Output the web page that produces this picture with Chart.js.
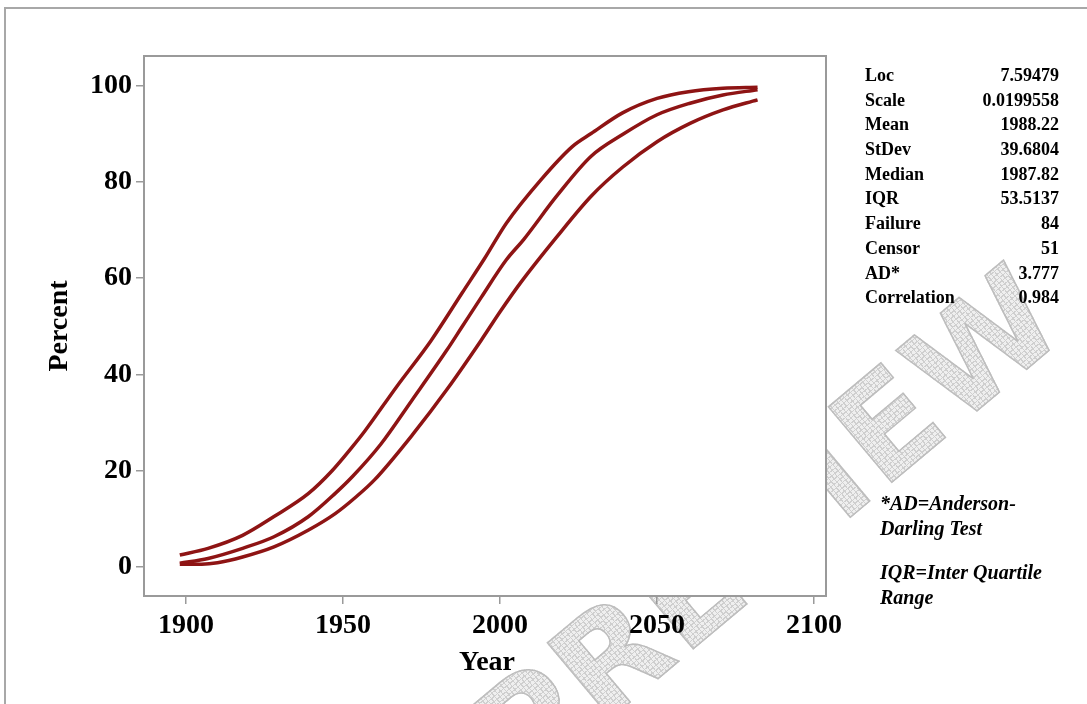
<!DOCTYPE html>
<html>
<head>
<meta charset="utf-8">
<script src="https://cdn.jsdelivr.net/npm/chart.js@4.4.1/dist/chart.umd.min.js"></script>
<style>
  html, body { margin:0; padding:0; background:#fff; width:1087px; height:704px; overflow:hidden; }
  #frame { position:absolute; left:4px; top:7px; width:1200px; height:800px; border-top:2px solid #a8a8a8; border-left:2px solid #a8a8a8; }
  #wm { position:absolute; left:449px; top:705px; font-family:"DejaVu Sans"; font-weight:bold; font-size:135px; line-height:135px;
        color:transparent;
        background: repeating-linear-gradient(0deg, #cfcfcf 0 1px, transparent 1px 4px), repeating-linear-gradient(90deg, #cfcfcf 0 1px, #efefef 1px 4px);
        -webkit-background-clip:text; background-clip:text;
        -webkit-text-stroke:1.5px #bdbdbd; transform-origin:0 0; transform:rotate(-40deg); white-space:nowrap; letter-spacing:4px; }
  #c { position:absolute; left:0; top:0; }
  .stats { position:absolute; left:865px; top:63px; width:194px; font-family:"Liberation Serif"; font-weight:bold; font-size:18px; color:#000; }
  .row { height:24.7px; line-height:24.7px; display:flex; justify-content:space-between; }
  .note { position:absolute; left:880px; font-family:"Liberation Serif"; font-weight:bold; font-style:italic; font-size:20px; line-height:24.5px; color:#000; }
</style>
</head>
<body>
<div id="frame"></div>
<div id="wm">PREVIEW</div>
<canvas id="c" width="1087" height="704"></canvas>
<div class="stats" id="stats"></div>
<div class="note" style="top:491px;">*AD=Anderson-<br>Darling Test</div>
<div class="note" style="top:560px;">IQR=Inter Quartile<br>Range</div>
<script>
// ---- data ----
const upperYears = [1898,1907,1918,1928,1939,1946.5,1953,1957,1967,1978,1988,1995,2002,2013,2023,2029,2039,2050,2060,2071,2082];
const upperPct   = [2.5,3.9,6.6,10.5,15.3,20,25,28.3,37.4,47,57,64,71.4,80.4,87.3,90,94.3,97.3,98.7,99.4,99.6];
const midYears   = [1898,1907,1918,1928,1939,1947.5,1953,1962,1972,1983,1988,1994,2002,2007.5,2018,2029,2039,2050,2060.5,2071,2082];
const midPct     = [0.8,1.8,3.9,6.3,10.5,15.3,18.8,25.5,34.7,45,50,56,63.8,68,77,85.3,89.8,93.9,96.3,98,99.1];
const lowerYears = [1898,1905,1910,1918,1928,1939,1947.5,1954,1960,1972.5,1983,1994,2000,2006.5,2018,2029,2039,2050,2060.5,2071,2082];
const lowerPct   = [0.6,0.6,0.9,2.1,4.2,7.7,11.1,14.5,18.1,27.8,36.8,47.1,53,59,68.5,77,83,88.3,92.1,94.9,97.0];
const xTickLabels = [1900,1950,2000,2050,2100];
const yTickLabels = [0,20,40,60,80,100];
const statLabels = ["Loc","Scale","Mean","StDev","Median","IQR","Failure","Censor","AD*","Correlation"];
const statValues = ["7.59479","0.0199558","1988.22","39.6804","1987.82","53.5137","84","51","3.777","0.984"];

// stats table
const st = document.getElementById('stats');
statLabels.forEach((l,i)=>{
  const r = document.createElement('div'); r.className='row';
  const a = document.createElement('span'); a.textContent = l;
  const b = document.createElement('span'); b.textContent = statValues[i];
  r.appendChild(a); r.appendChild(b); st.appendChild(r);
});

const toPts = (xs, ys) => xs.map((x,i)=>({x:x, y:ys[i]}));
const lineColor = '#8e1414';
const ds = (xs, ys) => ({ data: toPts(xs, ys), borderColor: lineColor, borderWidth: 3.5, pointRadius: 0, fill:false, cubicInterpolationMode:'monotone' });

const frameBox = {
  id:'frameBox',
  beforeDraw(chart){
    const {ctx, chartArea:a} = chart;
    ctx.save(); ctx.fillStyle='#fff'; ctx.fillRect(a.left,a.top,a.right-a.left,a.bottom-a.top); ctx.restore();
  },
  afterDraw(chart){
    const {ctx, chartArea:a} = chart;
    ctx.save();
    ctx.strokeStyle='#9a9a9a'; ctx.lineWidth=2;
    ctx.strokeRect(a.left,a.top,a.right-a.left,a.bottom-a.top);
    ctx.fillStyle='#000';
    ctx.font='bold 28px "Liberation Serif"';
    ctx.textAlign='center'; ctx.textBaseline='middle';
    ctx.fillText('Year', 487, 663);
    ctx.translate(60, 326); ctx.rotate(-Math.PI/2);
    ctx.fillText('Percent', 0, 0);
    ctx.restore();
  }
};

const tickFont = { family:'"Liberation Serif"', weight:'bold', size:28 };
new Chart(document.getElementById('c'), {
  type:'line',
  data:{ datasets:[ ds(upperYears, upperPct), ds(midYears, midPct), ds(lowerYears, lowerPct) ] },
  options:{
    responsive:false, animation:false,
    layout:{ padding:{ left:0, top:56, right:261, bottom:0 } },
    plugins:{ legend:{display:false}, tooltip:{enabled:false} },
    scales:{
      x:{ type:'linear', min:1886.6, max:2103.8,
          afterBuildTicks(s){ s.ticks = xTickLabels.map(v=>({value:v})); },
          afterFit(s){ s.height = 108; },
          ticks:{ font:tickFont, color:'#000', padding:5, maxRotation:0, callback:v=>String(v) },
          grid:{ drawOnChartArea:false, drawTicks:true, tickLength:8, color:'#9a9a9a', lineWidth:1.5 },
          border:{ display:false } },
      y:{ type:'linear', min:-6, max:106.1,
          afterBuildTicks(s){ s.ticks = yTickLabels.map(v=>({value:v})); },
          afterFit(s){ s.width = 144; },
          ticks:{ font:tickFont, color:'#000', padding:4, callback:v=>String(v) },
          grid:{ drawOnChartArea:false, drawTicks:true, tickLength:8, color:'#9a9a9a', lineWidth:1.5 },
          border:{ display:false } }
    }
  },
  plugins:[frameBox]
});
</script>
</body>
</html>
